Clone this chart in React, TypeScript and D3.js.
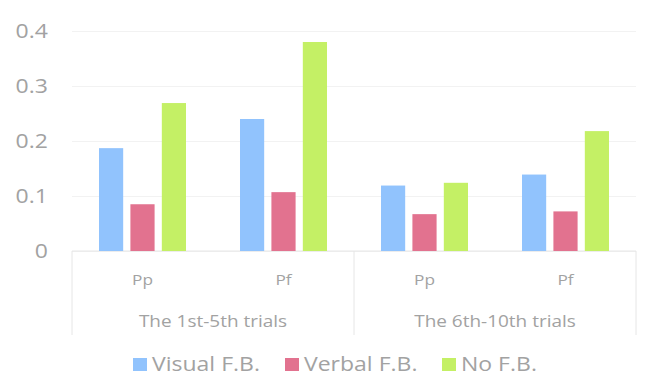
import React, { useEffect, useRef } from 'react'
import * as d3 from 'd3'

const [WIDTH, HEIGHT] = [654, 392]
const margin = { left: 72, right: 18, top: 31, bottom: 141 }

const groups = ['The 1st-5th trials', 'The 6th-10th trials']
const measures = ['Pp', 'Pf']
const seriesNames = ['Visual F.B.', 'Verbal F.B.', 'No F.B.']
const colors = ['#91C3FD', '#E2728F', '#C4F065']

const visualFB = [0.187, 0.240, 0.119, 0.139]
const verbalFB = [0.085, 0.107, 0.067, 0.072]
const noFB = [0.269, 0.380, 0.124, 0.218]

const yTicks = [0, 0.1, 0.2, 0.3, 0.4]
const FONT = '"Open Sans", "Noto Sans", sans-serif'
const TEXT_GRAY = '#a2a2a2'
const STRETCH = 1.15 // the source text is a bit wider than it is tall

export default function App() {
  const axisRef = useRef<SVGGElement>(null)

  const categories = groups.flatMap(g => measures.map(m => `${g}|${m}`))
  const values = [visualFB, verbalFB, noFB]

  const x0 = d3.scaleBand()
    .domain(categories)
    .range([margin.left, WIDTH - margin.right])
  const x1 = d3.scaleBand()
    .domain(seriesNames)
    .range([0, 87])
    .paddingInner(0.23)
  const y = d3.scaleLinear()
    .domain([0, 0.4])
    .range([HEIGHT - margin.bottom, margin.top])
  const groupScale = d3.scaleBand()
    .domain(groups)
    .range([margin.left, WIDTH - margin.right])

  useEffect(() => {
    const g = d3.select(axisRef.current)
    g.selectAll('*').remove()
    const yAxis = d3.axisLeft(y)
      .tickValues(yTicks)
      .tickSize(-(WIDTH - margin.left - margin.right))
      .tickPadding(21)
      .tickFormat(d => (d === 0 ? '0' : d3.format('.1f')(d as number)))
    g.attr('transform', `translate(${margin.left},0)`).call(yAxis)
    g.select('.domain').remove()
    g.selectAll('.tick line').attr('stroke', '#f2f2f2')
    g.selectAll('.tick text')
      .attr('fill', TEXT_GRAY)
      .attr('transform', `scale(${STRETCH},1)`)
      .style('font-family', FONT)
      .style('font-size', '20px')
  }, [])

  const base = y(0)
  const bottomEdge = 335
  const groupEdges = [...groups.map(g => groupScale(g) as number), WIDTH - margin.right]

  const label = (key: string, tx: number, ty: number, size: number, text: string, anchor = 'middle') => (
    <g key={key} transform={`translate(${tx},${ty}) scale(${STRETCH},1)`}>
      <text textAnchor={anchor} fill={TEXT_GRAY} fontFamily={FONT} fontSize={size}>{text}</text>
    </g>
  )

  return (
    <div style={{ position: 'absolute', left: 0, top: 0 }}>
      <svg width={WIDTH} height={HEIGHT} style={{ display: 'block', background: '#fff' }}>
        <g ref={axisRef}></g>
        <line x1={margin.left} x2={WIDTH - margin.right} y1={base} y2={base} stroke="#e6e6e6" />
        {groupEdges.map((gx, i) => (
          <line key={i} x1={gx} x2={gx} y1={base} y2={bottomEdge} stroke="#e6e6e6" />
        ))}
        {categories.map((c, ci) => (
          <g key={c} transform={`translate(${(x0(c) as number) + (x0.bandwidth() - 87) / 2},0)`}>
            {seriesNames.map((s, si) => (
              <rect key={s}
                x={x1(s)}
                y={y(values[si][ci])}
                width={x1.bandwidth()}
                height={base - y(values[si][ci])}
                fill={colors[si]} />
            ))}
          </g>
        ))}
        {categories.map(c =>
          label(c, (x0(c) as number) + x0.bandwidth() / 2, 285, 15, c.split('|')[1]))}
        {groups.map(g =>
          label(g, (groupScale(g) as number) + groupScale.bandwidth() / 2, 327, 16.5, g))}
        {seriesNames.map((s, i) => {
          const lx = [133, 285, 442][i]
          return (
            <g key={s}>
              <rect x={lx} y={358} width={14} height={13} fill={colors[i]} />
              {label(s + '-t', lx + 19, 371, 20, s, 'start')}
            </g>
          )
        })}
      </svg>
    </div>
  )
}
